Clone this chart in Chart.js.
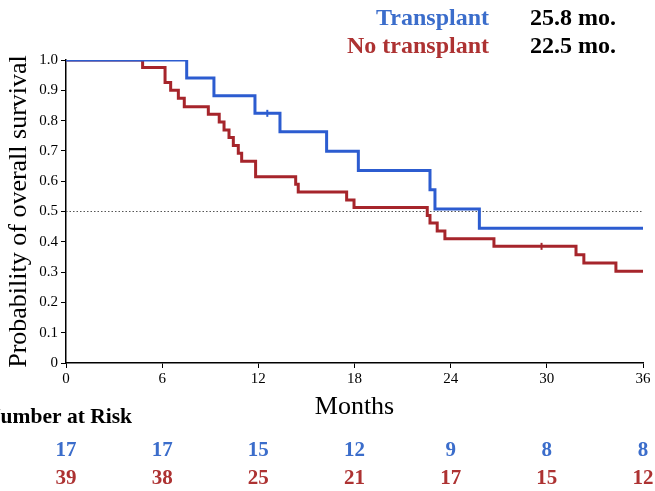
<!DOCTYPE html>
<html>
<head>
<meta charset="utf-8">
<script src="https://cdn.jsdelivr.net/npm/chart.js@4"></script>
<style>
  html, body { margin: 0; padding: 0; background: #fff; }
  canvas { display: block; }
</style>
</head>
<body>
<canvas id="kmChart" width="655" height="491"></canvas>
<script>
// Kaplan-Meier steps: month of each drop and survival after it
const transplantTimes = [0, 7.53, 9.23, 11.79, 13.35, 16.26, 18.24, 22.71, 23.02, 25.79, 36];
const transplantSurv = [1.0, 0.941, 0.882, 0.824, 0.763, 0.699, 0.635, 0.572, 0.508, 0.445, 0.445];
const noTransplantTimes = [0, 4.78, 6.18, 6.53, 7.01, 7.38, 8.88, 9.56, 9.86, 10.17, 10.44, 10.75, 10.96, 11.83,
    14.33, 14.49, 17.51, 17.97, 22.54, 22.71, 23.16, 23.64, 26.7, 31.82, 32.31, 34.31, 36];
const noTransplantSurv = [1.0, 0.975, 0.926, 0.9, 0.874, 0.846, 0.821, 0.795, 0.769, 0.744, 0.718, 0.692, 0.666, 0.615,
    0.59, 0.564, 0.538, 0.513, 0.487, 0.462, 0.436, 0.41, 0.385, 0.357, 0.33, 0.303, 0.303];

// censored patients (month, survival)
const transplantCensorT = [12.56];
const transplantCensorS = [0.824];
const noTransplantCensorT = [29.67];
const noTransplantCensorS = [0.385];

const monthTicks = [0, 6, 12, 18, 24, 30, 36];
const riskTransplant = [17, 17, 15, 12, 9, 8, 8];
const riskNoTransplant = [39, 38, 25, 21, 17, 15, 12];
const groupNames = ['Transplant', 'No transplant'];
const medianSurvival = ['25.8 mo.', '22.5 mo.'];

const blueLine = '#2c5cd0';
const redLine = '#a6252b';
const blueText = '#3b6dcb';
const redText = '#ad3232';
const serif = '"Liberation Serif", "Times New Roman", serif';

const toPoints = (xs, ys) => xs.map((t, i) => ({ x: t, y: ys[i] }));

// medians in the top right and the number-at-risk table under the axis
const extraText = {
    id: 'extraText',
    afterDraw(chart) {
        const ctx = chart.ctx;
        const xs = chart.scales.x;
        ctx.save();
        ctx.textBaseline = 'middle';

        ctx.font = 'bold 24px ' + serif;
        ctx.textAlign = 'right';
        ctx.fillStyle = blueText;
        ctx.fillText(groupNames[0], 489, 19);
        ctx.fillStyle = redText;
        ctx.fillText(groupNames[1], 489, 47);
        ctx.textAlign = 'left';
        ctx.fillStyle = '#000';
        ctx.fillText(medianSurvival[0], 530, 19);
        ctx.fillText(medianSurvival[1], 530, 47);

        ctx.font = 'bold 21.5px ' + serif;
        ctx.textAlign = 'right';
        ctx.fillText('Number at Risk', 132, 417);

        ctx.font = 'bold 21px ' + serif;
        ctx.textAlign = 'center';
        monthTicks.forEach((m, i) => {
            const px = xs.getPixelForValue(m);
            ctx.fillStyle = blueText;
            ctx.fillText(String(riskTransplant[i]), px, 451);
            ctx.fillStyle = redText;
            ctx.fillText(String(riskNoTransplant[i]), px, 479);
        });
        ctx.restore();
    }
};

const ctx = document.getElementById('kmChart').getContext('2d');
const kmChart = new Chart(ctx, {
    type: 'line',
    data: {
        datasets: [
            {
                label: groupNames[0],
                data: toPoints(transplantTimes, transplantSurv),
                stepped: 'before',
                borderColor: blueLine,
                borderWidth: 3,
                pointRadius: 0,
                fill: false,
            },
            {
                label: 'Transplant censored',
                type: 'scatter',
                data: toPoints(transplantCensorT, transplantCensorS),
                pointStyle: 'line',
                rotation: 90,
                pointRadius: 3.5,
                borderColor: blueLine,
                borderWidth: 2,
                showLine: false,
            },
            {
                label: groupNames[1],
                data: toPoints(noTransplantTimes, noTransplantSurv),
                stepped: 'before',
                borderColor: redLine,
                borderWidth: 3,
                pointRadius: 0,
                fill: false,
            },
            {
                label: 'No transplant censored',
                type: 'scatter',
                data: toPoints(noTransplantCensorT, noTransplantCensorS),
                pointStyle: 'line',
                rotation: 90,
                pointRadius: 3.5,
                borderColor: redLine,
                borderWidth: 2,
                showLine: false,
            },
            {
                label: 'median',
                data: [{ x: 0, y: 0.5 }, { x: 36, y: 0.5 }],
                borderColor: '#555',
                borderWidth: 1,
                borderDash: [1.5, 2],
                pointRadius: 0,
                fill: false,
            },
        ],
    },
    options: {
        responsive: false,
        animation: false,
        layout: { padding: { left: 0, top: 60, right: 12, bottom: 68 } },
        plugins: {
            legend: { display: false },
            tooltip: { enabled: false },
        },
        scales: {
            x: {
                type: 'linear',
                min: 0,
                max: 36,
                afterFit: (s) => { s.height = 60; },
                afterBuildTicks: (s) => { s.ticks = monthTicks.map((v) => ({ value: v })); },
                grid: { display: true, drawOnChartArea: false, drawTicks: true, tickLength: 5, color: '#000' },
                border: { display: true, color: '#000', width: 1.5 },
                ticks: { color: '#000', font: { family: serif, size: 15 }, padding: 2, maxRotation: 0 },
                title: { display: true, text: 'Months', color: '#000', font: { family: serif, size: 26 }, padding: 0 },
            },
            y: {
                min: 0,
                max: 1,
                afterFit: (s) => { s.width = 66; },
                grid: { display: true, drawOnChartArea: false, drawTicks: true, tickLength: 5, color: '#000' },
                border: { display: true, color: '#000', width: 1.5 },
                ticks: {
                    stepSize: 0.1,
                    color: '#000',
                    font: { family: serif, size: 15 },
                    padding: 3,
                    callback: (v) => (v === 0 ? '0' : v.toFixed(1)),
                },
                title: {
                    display: true,
                    text: 'Probability of overall survival',
                    color: '#000',
                    font: { family: serif, size: 26 },
                    padding: { top: 4, bottom: 0 },
                },
            },
        },
    },
    plugins: [extraText],
});
</script>
</body>
</html>
